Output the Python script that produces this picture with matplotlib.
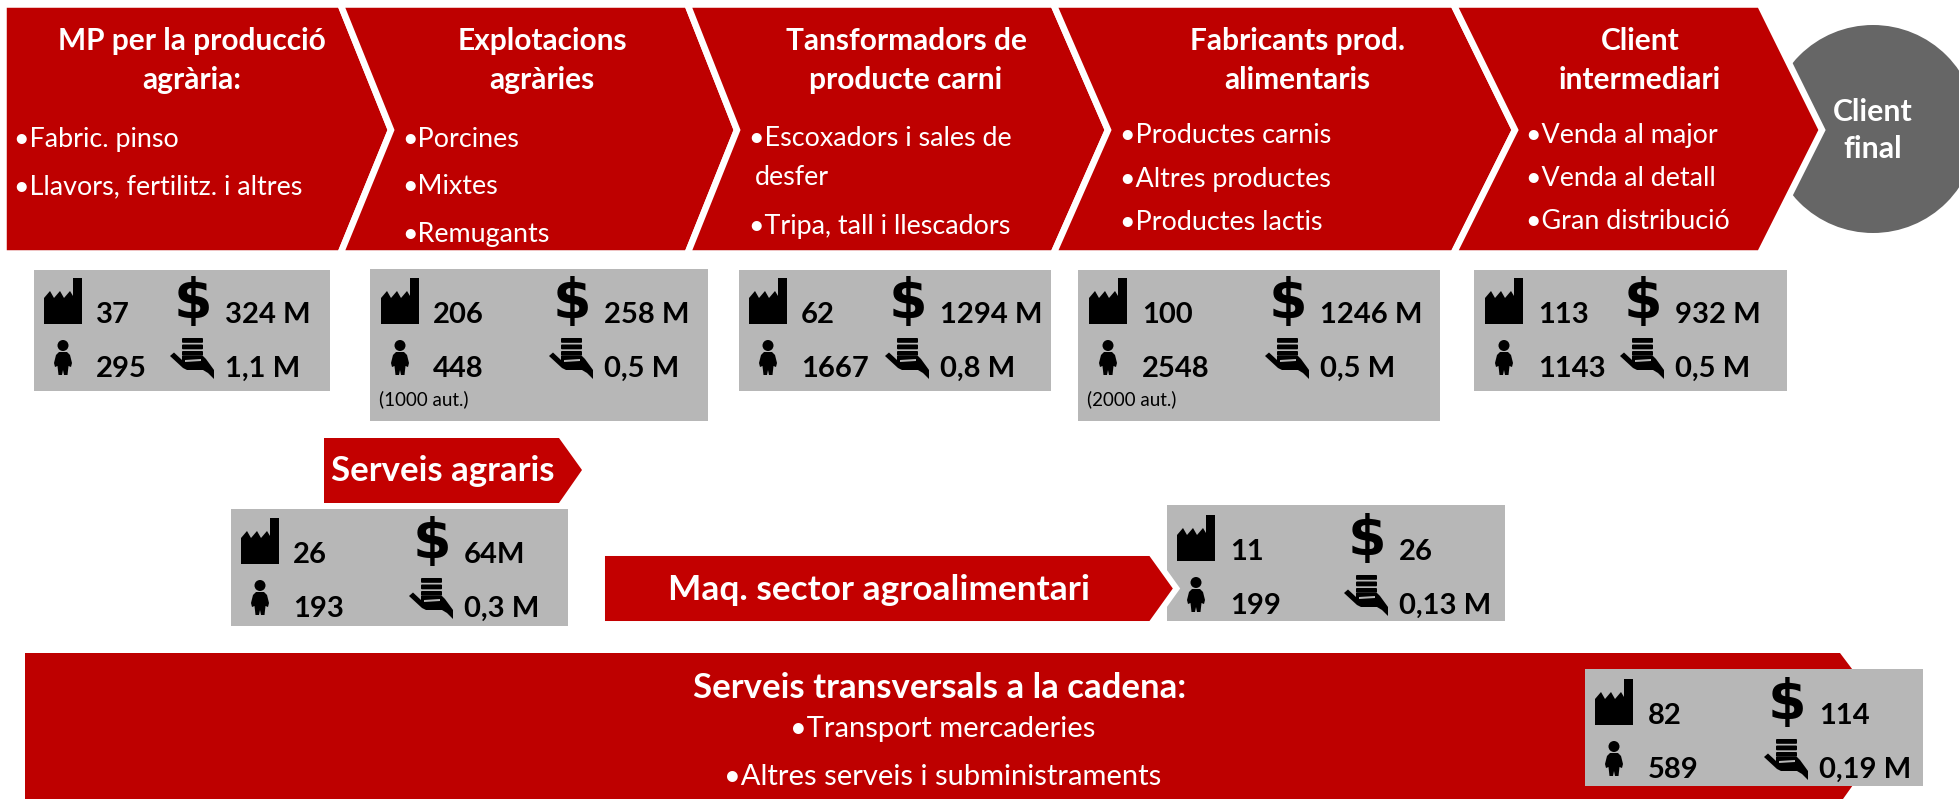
import matplotlib
matplotlib.use("Agg")
import matplotlib.pyplot as plt
from matplotlib.patches import Polygon, Rectangle, Circle, FancyBboxPatch

plt.rcParams['font.family'] = ['Lato', 'DejaVu Sans']

W, H = 1959, 799
RED = '#BE0000'
RED2 = '#C30000'
GREY = '#B7B7B7'
DARK = '#666666'

# ---- content ----
chain_titles = [
    ["MP per la producció", "agrària:"],
    ["Explotacions", "agràries"],
    ["Tansformadors de", "producte carni"],
    ["Fabricants prod.", "alimentaris"],
    ["Client", "intermediari"],
]
chain_items = [
    ["•Fabric. pinso", "•Llavors, fertilitz. i altres"],
    ["•Porcines", "•Mixtes", "•Remugants"],
    ["•Escoxadors i sales de", "desfer", "•Tripa, tall i llescadors"],
    ["•Productes carnis", "•Altres productes", "•Productes lactis"],
    ["•Venda al major", "•Venda al detall", "•Gran distribució"],
]
companies = ["37", "206", "62", "100", "113", "26", "11", "82"]
employees = ["295", "448", "1667", "2548", "1143", "193", "199", "589"]
revenue = ["324 M", "258 M", "1294 M", "1246 M", "932 M", "64M", "26", "114"]
per_emp = ["1,1 M", "0,5 M", "0,8 M", "0,5 M", "0,5 M", "0,3 M", "0,13 M", "0,19 M"]
notes = ["", "(1000 aut.)", "", "(2000 aut.)", "", "", "", ""]
agr_label = "Serveis agraris"
maq_label = "Maq. sector agroalimentari"
trans_title = "Serveis transversals a la cadena:"
trans_items = ["•Transport mercaderies", "•Altres serveis i subministraments"]
client_label = ["Client", "final"]

# ---- layout (pixels) ----
fig = plt.figure(figsize=(W / 100, H / 100), dpi=100)
ax = fig.add_axes([0, 0, 1, 1])
ax.set_xlim(0, W)
ax.set_ylim(H, 0)
ax.axis('off')


def txt(x, y, s, size, bold=False, color='black', ha='left'):
    ax.text(x, y, s, fontsize=size, fontweight='bold' if bold else 'normal',
            color=color, ha=ha, va='baseline', zorder=6)


# client circle
ax.add_patch(Circle((1873, 129), 104, fc=DARK, ec='none', zorder=1))

# chain chevrons
top, bot, mid = 4.5, 253.5, 130
left_x = [3.5, 340.5, 687.5, 1053.5, 1453.5]
right_x = [340.5, 687.5, 1053.5, 1453.5, 1760]
tip_x = [391, 737, 1108, 1515, 1822]
notch_x = [None, 391, 737, 1108, 1515]
for l, r, t, n in zip(left_x, right_x, tip_x, notch_x):
    pts = [(l, top), (r, top), (t, mid), (r, bot), (l, bot)]
    if n is not None:
        pts.append((n, mid))
    ax.add_patch(Polygon(pts, closed=True, fc=RED, ec='white', lw=4.7,
                         joinstyle='miter', zorder=2))

title_cx = [192, 542, 906, 1297, 1640]
title_base = [50, 89]
item_x = [20, 408, 755, 1126, 1532]
item_base = [[147, 194], [147, 194, 242], [146, 185, 234], [143, 187, 230], [143, 186, 229]]
bullet_shift = 6
for i in range(5):
    for ln, b in zip(chain_titles[i], title_base):
        txt(title_cx[i], b, ln, 21.5, True, 'white', 'center')
    for ln, b in zip(chain_items[i], item_base[i]):
        x = item_x[i] - bullet_shift if ln.startswith('•') else item_x[i]
        txt(x, b, ln, 19.4, False, 'white')
for ln, b in zip(client_label, [121, 158]):
    txt(1873, b, ln, 21.8, True, 'white', 'center')

# secondary arrows
ax.add_patch(Polygon([(324, 438), (559, 438), (582, 470), (559, 503), (324, 503)], fc=RED2, ec='none', zorder=2))
txt(331, 481, agr_label, 25, True, 'white')

ax.add_patch(Polygon([(602, 553), (1151, 553), (1176.5, 588.5), (1151, 624), (602, 624)], fc=RED2, ec='white',
                     lw=4.3, joinstyle='miter', zorder=4.5))
txt(668, 600, maq_label, 25.4, True, 'white')

ax.add_patch(Polygon([(25, 653), (1840, 653), (1895, 726), (1843, 799), (25, 799)], fc=RED, ec='none', zorder=2))
txt(940, 698, trans_title, 25, True, 'white', 'center')
txt(943, 737, trans_items[0], 21, False, 'white', 'center')
txt(943, 785, trans_items[1], 21, False, 'white', 'center')


# ---- icons ----
def factory(x, y):
    # x,y: left/top of the 38x46 icon
    pts = [(0, 46), (0, 20), (6, 13), (10, 20), (16, 13), (20, 20), (26, 13), (29, 18),
           (29, 0), (38, 0), (38, 46)]
    ax.add_patch(Polygon([(x + a, y + b) for a, b in pts], fc='black', ec='none', zorder=5))


def person(x, y):
    # 18 wide, 35 tall
    ax.add_patch(Circle((x + 9, y + 5.5), 5.5, fc='black', ec='none', zorder=5))
    body = [(5, 12), (13, 12), (16, 15), (18, 23), (17, 27), (14.5, 26), (13.5, 35), (10, 35),
            (9, 30), (8, 35), (4.5, 35), (3.5, 26), (1, 27), (0, 23), (2, 15)]
    ax.add_patch(Polygon([(x + a, y + b) for a, b in body], fc='black', ec='none', zorder=5))


def hand(x, y):
    # 44 wide, 42 tall
    for yy in (2, 8.5, 15):
        ax.add_patch(FancyBboxPatch((x + 13, y + yy), 19, 2.8,
                                    boxstyle='round,pad=1', fc='black', ec='none', zorder=5))
    arm = [(0, 19), (4, 15.5), (12, 23), (12, 19), (33, 19), (36, 22), (44, 33), (44, 42),
           (38, 36), (33, 33), (17, 33), (13, 31)]
    ax.add_patch(Polygon([(x + a, y + b) for a, b in arm], fc='black', ec='none', zorder=5))
    ax.add_patch(Polygon([(x + 15, y + 23), (x + 31, y + 22), (x + 31, y + 24), (x + 15, y + 25)],
                         fc=GREY, ec='none', zorder=5.5))


def dollar(x, y):
    ax.text(x + 14.5, y + 40, '$', fontsize=40, fontweight='bold', family='DejaVu Sans',
            ha='center', va='baseline', color='black', zorder=5)


box_rects = [(34, 270, 296, 121), (370, 269, 338, 152), (739, 270, 312, 121), (1078, 270, 362, 151),
             (1474, 270, 313, 121), (231, 509, 337, 117), (1167, 505, 338, 116), (1585, 669, 338, 117)]
fac_x = [44, 381, 749, 1089, 1485, 241, 1177, 1595]
num_x = [96, 433, 801, 1142, 1538, 293, 1230, 1648]
val_x = [225, 604, 940, 1320, 1675, 464, 1399, 1819]
fac_top = [278, 278, 278, 278, 278, 518, 515, 679]
note_pos = [None, (379, 405), None, (1087, 405), None, None, None, None]
for i in range(8):
    bx, by, bw, bh = box_rects[i]
    ax.add_patch(Rectangle((bx, by), bw, bh, fc=GREY, ec='none', zorder=4))
    ft = fac_top[i]
    factory(fac_x[i], ft)
    person(fac_x[i] + 10, ft + 62)
    dollar(val_x[i] - 47, ft)
    hand(val_x[i] - 55, ft + 59)
    txt(num_x[i], ft + 45, companies[i], 21, True)
    txt(val_x[i], ft + 45, revenue[i], 21, True)
    txt(num_x[i], ft + 99, employees[i], 21, True)
    txt(val_x[i], ft + 99, per_emp[i], 21, True)
    if notes[i]:
        txt(note_pos[i][0], note_pos[i][1], notes[i], 13.5)

fig.savefig('out.png', dpi=100, facecolor='white')
